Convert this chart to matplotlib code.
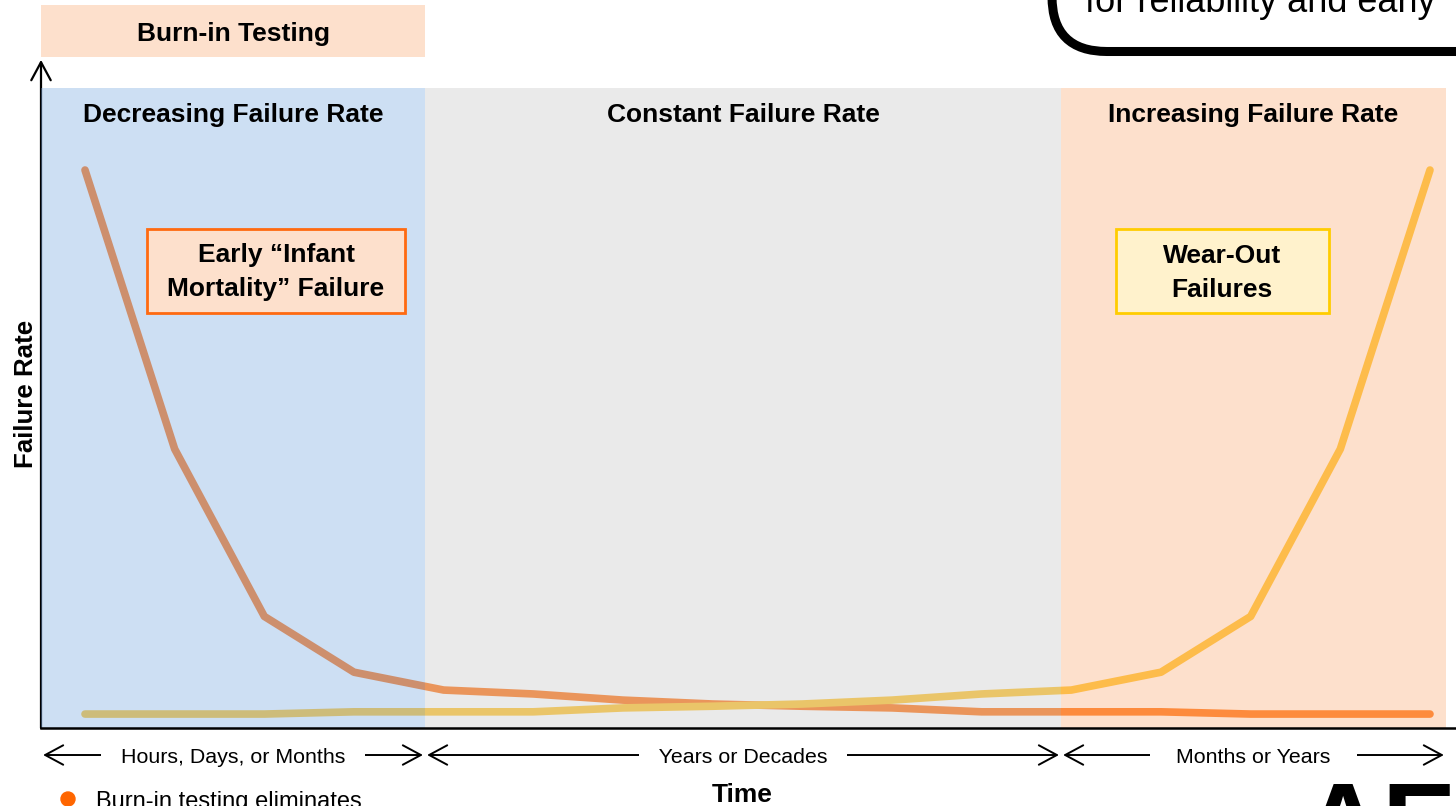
import matplotlib
matplotlib.use('Agg')
import matplotlib.pyplot as plt
from matplotlib.patches import Rectangle, FancyBboxPatch, Circle

plt.rcParams['font.family'] = ['Liberation Sans', 'DejaVu Sans']

# failure rate of the two populations, sampled at evenly spaced times
time_steps = [0, 1, 2, 3, 4, 5, 6, 7, 8, 9, 10, 11, 12, 13, 14, 15]
infant_rate = [100, 50, 20, 10, 6.8, 6.1, 5.0, 4.3, 3.9, 3.6, 2.9, 2.9, 2.9, 2.5, 2.5, 2.5]
wearout_rate = [2.5, 2.5, 2.5, 2.9, 2.9, 2.9, 3.6, 3.9, 4.3, 5.0, 6.1, 6.8, 10, 20, 50, 100]

# life phases along the time axis
phase_edges = [-0.4907, 3.792, 10.885, 15.178]
phase_names = ['Decreasing Failure Rate', 'Constant Failure Rate', 'Increasing Failure Rate']
phase_spans = ['Hours, Days, or Months', 'Years or Decades', 'Months or Years']

phase_colors = ['#7CABE0', '#C2C2C2', '#FAA56A']
phase_alpha = [0.38, 0.34, 0.34]

fig = plt.figure(figsize=(14.56, 8.06), dpi=100)
ax = fig.add_axes([41 / 1456, 78 / 806, 1415 / 1456, 640 / 806])
ax.set_xlim(-0.4907, 15.29)
ax.set_ylim(0, 114.7)
ax.set_xticks([])
ax.set_yticks([])
for side in ['top', 'right', 'left']:
    ax.spines[side].set_visible(False)
ax.spines['bottom'].set_linewidth(1.8)
ax.spines['bottom'].set_color('black')

# curves sit under the translucent phase shading
ax.plot(time_steps, infant_rate, color='#FF7F27', lw=5.5,
        solid_capstyle='round', zorder=1)
ax.plot(time_steps, wearout_rate, color='#FFC83C', lw=5.5,
        solid_capstyle='round', zorder=1.1)

bx = ax.get_xaxis_transform()

for i in range(3):
    x0, x1 = phase_edges[i], phase_edges[i + 1]
    mid = (x0 + x1) / 2
    ax.axvspan(x0, x1, color=phase_colors[i], alpha=phase_alpha[i], lw=0, zorder=1.5)
    ax.text(mid, 0.9469, phase_names[i], transform=bx, ha='center', va='baseline',
            fontsize=19, fontweight='bold', zorder=5)
    # duration arrows below the axis
    ax.annotate('', xy=(x1, -0.0422), xytext=(x0, -0.0422),
                xycoords=bx, textcoords=bx, annotation_clip=False,
                arrowprops=dict(arrowstyle='<->,head_length=13,head_width=7',
                                mutation_scale=1, lw=1.4, color='black',
                                shrinkA=1.5, shrinkB=1.5))
    pad = '    ' if i == 2 else '   '
    ax.text(mid, -0.0547, pad + phase_spans[i] + pad, transform=bx,
            ha='center', va='baseline', fontsize=15.4, zorder=5, clip_on=False,
            bbox=dict(boxstyle='square,pad=0.1', fc='white', ec='none'))

# burn-in banner above the first phase
ax.add_patch(Rectangle((phase_edges[0], 1.0484), phase_edges[1] - phase_edges[0], 0.0813,
                       transform=bx, fc=phase_colors[2], alpha=0.34, lw=0, clip_on=False))
ax.text((phase_edges[0] + phase_edges[1]) / 2, 1.0739, 'Burn-in Testing', transform=bx,
        ha='center', va='baseline', fontsize=19, fontweight='bold')

# y axis with an open arrow head
ax.annotate('', xy=(0, 1.044), xytext=(0, 0), xycoords='axes fraction',
            annotation_clip=False, zorder=1.2,
            arrowprops=dict(arrowstyle='->,head_length=13,head_width=7',
                            mutation_scale=1, lw=1.6, color='black',
                            shrinkA=0, shrinkB=0))

# callout boxes
ax.add_patch(Rectangle((0.0749, 0.6484), 0.1823, 0.13125, transform=ax.transAxes,
                       fc='#FDE0CC', ec='#FF6A10', lw=2, zorder=4))
ax.text(0.1661, 0.7281, 'Early \u201cInfant', transform=ax.transAxes, ha='center',
        va='baseline', fontsize=19, fontweight='bold', zorder=5)
ax.text(0.1661, 0.675, 'Mortality\u201d Failure', transform=ax.transAxes, ha='center',
        va='baseline', fontsize=19, fontweight='bold', zorder=5)

ax.add_patch(Rectangle((0.7597, 0.6484), 0.1505, 0.13125, transform=ax.transAxes,
                       fc='#FFF2CC', ec='#FFCC00', lw=2, zorder=4))
ax.text(0.8346, 0.7266, 'Wear-Out', transform=ax.transAxes, ha='center',
        va='baseline', fontsize=19, fontweight='bold', zorder=5)
ax.text(0.8346, 0.6734, 'Failures', transform=ax.transAxes, ha='center',
        va='baseline', fontsize=19, fontweight='bold', zorder=5)

fig.text(33 / 1456, 1 - 393.5 / 806, 'Failure Rate', rotation=90, rotation_mode='anchor',
         ha='center', va='baseline', fontsize=18.6, fontweight='bold')
fig.text(742 / 1456, 4 / 806, 'Time', ha='center', va='baseline',
         fontsize=19, fontweight='bold')

# slide elements around the chart (cut by the figure edge)
inch = fig.dpi_scale_trans
fig.patches.append(FancyBboxPatch((10.52, 7.545), 5, 2,
                                  boxstyle='round,pad=0,rounding_size=0.55',
                                  transform=inch, fc='white', ec='black', lw=6.5))
fig.text(10.85, 7.94, 'for reliability and early', transform=inch,
         ha='left', va='baseline', fontsize=26)

fig.patches.append(Circle((0.68, 0.07), 0.07, transform=inch, color='#FF6600'))
fig.text(0.96, -0.02, 'Burn-in testing eliminates', transform=inch,
         ha='left', va='baseline', fontsize=17)
fig.text(13.02, -0.55, 'AE', transform=inch, ha='left', va='baseline',
         fontsize=80, fontweight='bold')

fig.savefig('out.png', dpi=100)
